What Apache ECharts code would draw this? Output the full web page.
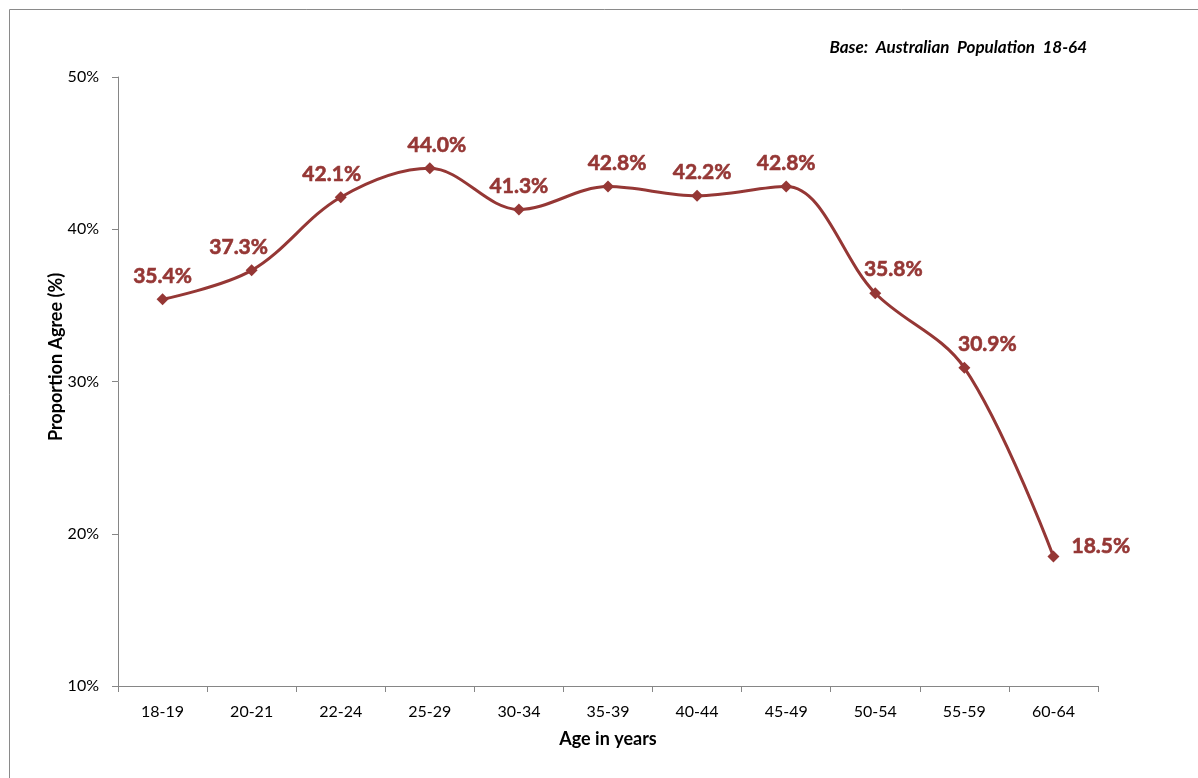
<!DOCTYPE html>
<html>
<head>
<meta charset="utf-8">
<title>Proportion Agree by Age</title>
<script src="https://cdn.jsdelivr.net/npm/echarts@6/dist/echarts.min.js"></script>
<style>
  html, body { margin: 0; padding: 0; background: #ffffff; }
  #chart { width: 1198px; height: 778px; }
</style>
</head>
<body>
<div id="chart"></div>
<script>
// Age bands and share of people who agree (%)
const ageGroups = ['18-19', '20-21', '22-24', '25-29', '30-34', '35-39', '40-44', '45-49', '50-54', '55-59', '60-64'];
const agreeShare = [35.4, 37.3, 42.1, 44.0, 41.3, 42.8, 42.2, 42.8, 35.8, 30.9, 18.5];
const yTicks = { min: 10, max: 50, step: 10 };

// Horizontal nudges for the value labels so they clear the curve
const labelShiftX = [0, -13, -9, 7, 0, 9, 5, 0, 18, 23, 0];

const lineColor = '#953735';
const fontFamily = 'Lato, "Open Sans", sans-serif';

const seriesData = agreeShare.map((v, i) => {
  const item = { value: v };
  if (i === agreeShare.length - 1) {
    item.label = { position: 'right', distance: 12, offset: [0, -10] };
  } else {
    item.label = { offset: [labelShiftX[i], 0] };
  }
  return item;
});

const chart = echarts.init(document.getElementById('chart'), null, { renderer: 'canvas' });

chart.setOption({
  backgroundColor: '#ffffff',
  animation: false,
  title: {
    text: '{b|Base}{i|:  Australian  Population  18-64}',
    right: 106,
    top: 34,
    textStyle: {
      rich: {
        b: { fontFamily: fontFamily, fontSize: 17, fontWeight: 'bold', fontStyle: 'italic', color: '#000000' },
        i: { fontFamily: fontFamily, fontSize: 17, fontStyle: 'italic', color: '#000000' }
      }
    }
  },
  graphic: [
    {
      type: 'rect',
      silent: true,
      shape: { x: 9.5, y: 9.5, width: 1300, height: 900 },
      style: { fill: 'none', stroke: '#8a8a8a', lineWidth: 1 }
    },
    {
      type: 'text',
      silent: true,
      x: 56,
      y: 357,
      rotation: Math.PI / 2,
      style: {
        text: 'Proportion Agree (%)',
        fontFamily: fontFamily,
        fontSize: 18,
        fontWeight: 'bold',
        fill: '#000000',
        align: 'center',
        verticalAlign: 'middle'
      }
    }
  ],
  grid: { left: 118, right: 100, top: 77, bottom: 92, containLabel: false },
  xAxis: {
    type: 'category',
    data: ageGroups,
    boundaryGap: true,
    name: 'Age in years',
    nameLocation: 'middle',
    nameGap: 44,
    nameTextStyle: { fontFamily: fontFamily, fontSize: 18, fontWeight: 'bold', color: '#000000' },
    axisLine: { lineStyle: { color: '#868686', width: 1 } },
    axisTick: { show: true, alignWithLabel: false, length: 6, lineStyle: { color: '#868686' } },
    axisLabel: { fontFamily: fontFamily, fontSize: 16, color: '#000000', margin: 18 },
    splitLine: { show: false }
  },
  yAxis: {
    type: 'value',
    min: yTicks.min,
    max: yTicks.max,
    interval: yTicks.step,
    axisLine: { show: true, lineStyle: { color: '#868686', width: 1 } },
    axisTick: { show: true, length: 6, lineStyle: { color: '#868686' } },
    axisLabel: { fontFamily: fontFamily, fontSize: 16, color: '#000000', margin: 19, formatter: '{value}%' },
    splitLine: { show: false }
  },
  series: [{
    type: 'line',
    data: seriesData,
    smooth: 0.35,
    symbol: 'diamond',
    symbolSize: 12,
    lineStyle: { color: lineColor, width: 3 },
    itemStyle: { color: lineColor },
    label: {
      show: true,
      position: 'top',
      distance: 7,
      fontFamily: fontFamily,
      fontSize: 21,
      fontWeight: 'bold',
      color: lineColor,
      textBorderColor: lineColor,
      textBorderWidth: 0.6,
      formatter: p => p.value.toFixed(1) + '%'
    }
  }]
});
</script>
</body>
</html>
